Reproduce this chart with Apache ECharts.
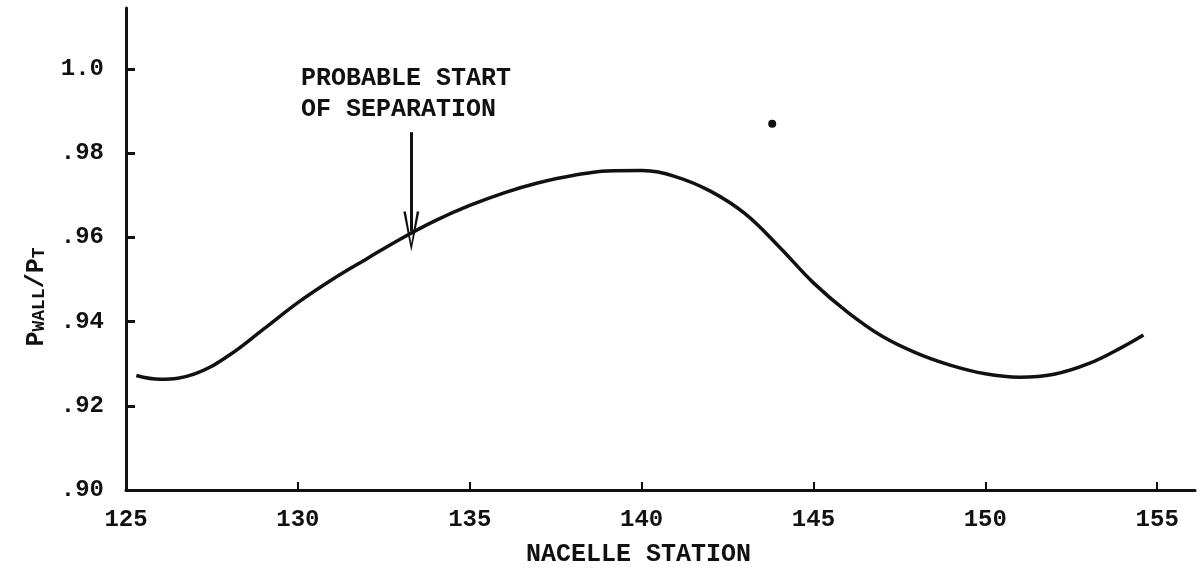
<!DOCTYPE html>
<html>
<head>
<meta charset="utf-8">
<script src="https://cdn.jsdelivr.net/npm/echarts@6/dist/echarts.min.js"></script>
<style>
  html, body { margin: 0; padding: 0; background: #fff; }
  #chart { width: 1202px; height: 568px; }
</style>
</head>
<body>
<div id="chart"></div>
<script>
// nacelle station vs wall pressure ratio
const stations = [125.3, 126, 127, 128, 129, 130, 131, 132, 133, 134, 135, 136, 137, 138, 139, 140,
  141, 142, 143, 144, 145, 146, 147, 148, 149, 150, 151, 152, 153, 154, 154.6];
const pRatio = [0.9272, 0.9263, 0.9276, 0.9320, 0.9382, 0.9445, 0.9500, 0.9549, 0.9597, 0.9640, 0.9676,
  0.9706, 0.9730, 0.9747, 0.9758, 0.9759, 0.9744, 0.9710, 0.9657, 0.9578, 0.9492, 0.9422, 0.9365,
  0.9325, 0.9296, 0.9276, 0.9268, 0.9275, 0.9300, 0.9340, 0.9368];

// lone test point
const lonePoint = [143.8, 0.987];

// separation arrow (from, to)
const arrowFrom = [133.3, 0.985];
const arrowTo = [133.3, 0.9614];

const xTicks = [125, 130, 135, 140, 145, 150, 155];
const xTickLabels = ["125", "130", "135", "140", "145", "150", "155"];
const yTicks = [0.90, 0.92, 0.94, 0.96, 0.98, 1.0];
const yTickLabels = [".90", ".92", ".94", ".96", ".98", "1.0"];

const FONT = "Liberation Mono";

const chart = echarts.init(document.getElementById("chart"));

const curve = stations.map((x, i) => [x, pRatio[i]]);

const option = {
  animation: false,
  backgroundColor: "#fff",
  grid: { left: 126, right: 7, top: 8, bottom: 78, outerBoundsMode: "none" },
  xAxis: {
    type: "value",
    min: 125,
    max: 156.1,
    name: "NACELLE STATION",
    nameLocation: "middle",
    nameGap: 52,
    nameTextStyle: { fontFamily: FONT, fontSize: 25, color: "#111", fontWeight: "bold", padding: [0, 44, 0, 0] },
    axisLine: { lineStyle: { color: "#111", width: 3 } },
    axisTick: { inside: true, length: 8, customValues: xTicks, lineStyle: { color: "#111", width: 2 } },
    axisLabel: {
      customValues: xTicks,
      formatter: (v) => xTickLabels[xTicks.indexOf(v)] || "",
      fontFamily: FONT, fontSize: 24, color: "#111", fontWeight: "bold", margin: 18,
    },
    splitLine: { show: false },
  },
  yAxis: {
    type: "value",
    min: 0.90,
    max: 1.0145,
    name: "{p|P}{s|WALL}{p|/P}{s|T}",
    nameLocation: "middle",
    nameRotate: 90,
    nameGap: 78,
    nameTextStyle: {
      padding: [0, 96, 0, 0],
      rich: {
        p: { fontFamily: FONT, fontSize: 25, fontWeight: "bold", color: "#111", lineHeight: 24, verticalAlign: "top" },
        s: { fontFamily: FONT, fontSize: 18, fontWeight: "bold", color: "#111", lineHeight: 16, verticalAlign: "bottom" },
      },
    },
    axisLine: { lineStyle: { color: "#111", width: 3 } },
    axisTick: { inside: true, length: 9, customValues: yTicks, lineStyle: { color: "#111", width: 3 } },
    axisLabel: {
      customValues: yTicks,
      formatter: (v) => {
        const i = yTicks.findIndex((t) => Math.abs(t - v) < 1e-6);
        return i >= 0 ? yTickLabels[i] : "";
      },
      fontFamily: FONT, fontSize: 24, color: "#111", fontWeight: "bold", margin: 22,
    },
    splitLine: { show: false },
  },
  graphic: [
    {
      type: "text",
      left: 301,
      top: 63,
      style: {
        text: "PROBABLE START\nOF SEPARATION",
        font: "bold 25px " + FONT,
        fill: "#111",
        lineHeight: 31,
      },
    },
  ],
  series: [
    {
      type: "line",
      data: curve,
      smooth: 0.4,
      showSymbol: false,
      lineStyle: { color: "#111", width: 3.5 },
      markLine: {
        silent: true,
        symbol: ["none", "path://M5,0 L10,24 L8.4,24 L5,5 L1.6,24 L0,24 Z"],
        symbolSize: [16, 40],
        label: { show: false },
        lineStyle: { color: "#111", width: 3, type: "solid" },
        data: [[{ coord: arrowFrom }, { coord: arrowTo }]],
      },
    },
    {
      type: "scatter",
      data: [lonePoint],
      symbolSize: 8,
      itemStyle: { color: "#111", opacity: 1 },
    },
  ],
};

chart.setOption(option);
</script>
</body>
</html>
